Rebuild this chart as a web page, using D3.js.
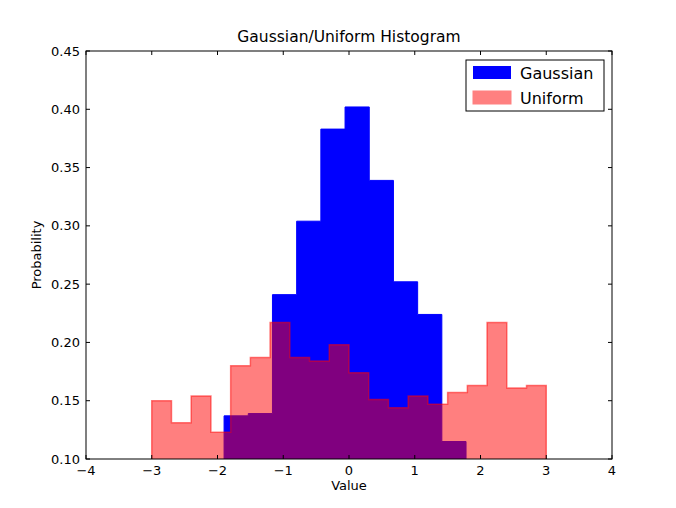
<!DOCTYPE html><html><head><meta charset="utf-8"><script src="https://cdn.jsdelivr.net/npm/d3@7"></script>
<style>body{margin:0;background:#fff}svg{font-family:"DejaVu Sans",sans-serif}</style></head><body><svg id="c" width="676" height="508"></svg>
<script>
const gaussStart=-1.90, gaussWidth=0.368;
const gaussValues=[0.137,0.139,0.241,0.304,0.383,0.402,0.339,0.252,0.224,0.115];
const unifStart=-3.0, unifWidth=0.3;
const unifValues=[0.150,0.131,0.154,0.123,0.180,0.187,0.217,0.187,0.184,0.198,0.174,0.151,0.144,0.154,0.147,0.157,0.163,0.217,0.161,0.163];
const xTicks=[-4,-3,-2,-1,0,1,2,3,4];
const yTicks=[0.10,0.15,0.20,0.25,0.30,0.35,0.40,0.45];
const L=86,R=612,T=51,B=459;
const svg=d3.select("#c");
const x=d3.scaleLinear([-4,4],[L,R]), y=d3.scaleLinear([0.10,0.45],[B,T]);
svg.append("clipPath").attr("id","cp").append("rect").attr("x",L).attr("y",T).attr("width",R-L).attr("height",B-T);
function pts(start,w,vals){const p=[[start,0]];vals.forEach((v,i)=>{p.push([start+i*w,v]);p.push([start+(i+1)*w,v]);});p.push([start+vals.length*w,0]);return p;}
const line=d3.line().x(d=>x(d[0])).y(d=>y(d[1]));
const g=svg.append("g").attr("clip-path","url(#cp)");
g.append("path").attr("d",line(pts(gaussStart,gaussWidth,gaussValues))+"Z").attr("fill","#0000ff").attr("stroke","#0000ff");
g.append("path").attr("d",line(pts(unifStart,unifWidth,unifValues))+"Z").attr("fill","#ff0000").attr("stroke","#ff0000").attr("fill-opacity",0.5).attr("stroke-opacity",0.5).attr("stroke-width",1.5);
svg.append("rect").attr("x",L).attr("y",T).attr("width",R-L).attr("height",B-T).attr("fill","none").attr("stroke","#000");
const ax=svg.append("g");
xTicks.forEach(t=>{ax.append("line").attr("x1",x(t)).attr("x2",x(t)).attr("y1",B).attr("y2",B-4).attr("stroke","#000");
 ax.append("line").attr("x1",x(t)).attr("x2",x(t)).attr("y1",T).attr("y2",T+4).attr("stroke","#000");
 ax.append("text").attr("x",x(t)).attr("y",B+16).attr("text-anchor","middle").attr("font-size",13).text(t<0?"\u2212"+(-t):t);});
yTicks.forEach(t=>{ax.append("line").attr("x1",L).attr("x2",L+4).attr("y1",y(t)).attr("y2",y(t)).attr("stroke","#000");
 ax.append("line").attr("x1",R).attr("x2",R-4).attr("y1",y(t)).attr("y2",y(t)).attr("stroke","#000");
 ax.append("text").attr("x",L-6).attr("y",y(t)+4.5).attr("text-anchor","end").attr("font-size",13).text(t.toFixed(2));});
svg.append("text").attr("x",(L+R)/2).attr("y",42).attr("text-anchor","middle").attr("font-size",15.5).text("Gaussian/Uniform Histogram");
svg.append("text").attr("x",(L+R)/2).attr("y",490).attr("text-anchor","middle").attr("font-size",13).text("Value");
svg.append("text").attr("transform","translate(41,255) rotate(-90)").attr("text-anchor","middle").attr("font-size",13).text("Probability");
const lg=svg.append("g");
lg.append("rect").attr("x",466).attr("y",60).attr("width",138).attr("height",51).attr("fill","#fff").attr("stroke","#000");
lg.append("rect").attr("x",473).attr("y",66).attr("width",38).attr("height",13).attr("fill","#0000ff");
lg.append("rect").attr("x",473).attr("y",91).attr("width",38).attr("height",13).attr("fill","#ff8080").attr("stroke","#ff8080");
lg.append("text").attr("x",520).attr("y",79).attr("font-size",16).text("Gaussian");
lg.append("text").attr("x",520).attr("y",104).attr("font-size",16).text("Uniform");
</script></body></html>
